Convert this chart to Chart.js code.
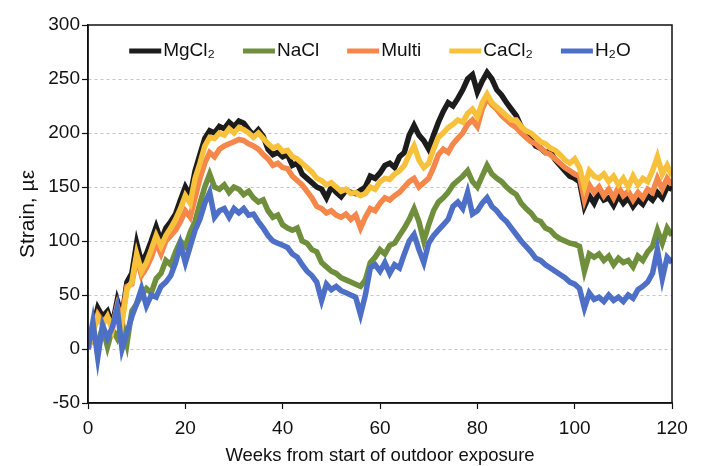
<!DOCTYPE html>
<html>
<head>
<meta charset="utf-8">
<script src="https://cdn.jsdelivr.net/npm/chart.js@4.4.1/dist/chart.umd.min.js"></script>
<style>
  html, body { margin: 0; padding: 0; background: #fff; }
  canvas { display: block; }
</style>
</head>
<body>
<canvas id="strainChart" width="706" height="466"></canvas>
<script>
// ========================================
// データ（週ごとの読み取り値）
// ========================================

const weeks = Array.from({ length: 121 }, (_, i) => i);

const mgcl2 = [
    0, 20, 38, 30, 35, 22, 45, 30, 62, 70,
    98, 80, 88, 100, 113, 100, 112, 118, 125, 138,
    150, 142, 165, 180, 195, 202, 200, 206, 204, 210,
    206, 211, 209, 203, 198, 203, 197, 185, 180, 182,
    178, 180, 170, 172, 162, 158, 154, 150, 148, 140,
    150, 145, 141, 147, 145, 144, 147, 150, 160, 158,
    163, 170, 172, 168, 178, 182, 198, 207, 198, 193,
    185, 198, 210, 220, 228, 225, 232, 240, 250, 254,
    238, 248, 256, 250, 240, 235, 228, 222, 216, 206,
    200, 194, 188, 186, 182, 183, 175, 170, 165, 160,
    158, 155, 132, 142, 135, 145, 138, 140, 133, 142,
    135, 140, 132, 138, 134, 142, 138, 145, 140, 150,
    148
];

const nacl = [
    0, 12, 5, 20, 2, 18, 10, 25, 5, 35,
    42, 50, 56, 52, 65, 70, 82, 78, 90, 100,
    95, 108, 118, 135, 150, 162, 150, 148, 152, 145,
    150, 148, 143, 146, 140, 136, 138, 128, 122, 124,
    115, 112, 110, 112, 100, 98, 92, 90, 80, 76,
    72, 70, 66, 64, 62, 60, 58, 64, 80, 85,
    92, 88, 96, 98, 105, 112, 120, 130, 118, 100,
    115, 128, 136, 140, 145, 152, 156, 160, 165, 155,
    150, 160, 170, 162, 158, 155, 150, 146, 143, 135,
    130, 126, 120, 118, 112, 110, 105, 102, 100, 98,
    97, 95, 72, 88, 85, 88, 82, 86, 78, 84,
    80, 82, 76, 86, 82, 90, 95, 110, 98, 112,
    105
];

const multi = [
    0, 18, 32, 25, 30, 20, 40, 28, 58, 60,
    85, 68, 75, 85, 98, 88, 100, 105, 110, 118,
    128, 122, 140, 158, 172, 182, 178, 185, 188, 190,
    192, 194, 193, 190, 188, 185, 180, 176, 170, 172,
    168, 167, 160, 156, 152, 146, 140, 132, 130, 126,
    128, 124, 122, 125, 120, 124, 112, 122, 130, 128,
    135, 140, 138, 142, 145, 150, 155, 158, 150, 154,
    158, 168, 180, 185, 182, 190, 195, 200, 208, 212,
    206, 222, 232, 226, 222, 216, 212, 208, 205, 200,
    196, 192, 190, 186, 182, 180, 176, 172, 168, 165,
    162, 160, 138, 152, 145, 150, 142, 148, 140, 150,
    142, 146, 138, 145, 140, 148, 145, 158, 148, 158,
    152
];

const cacl2 = [
    0, 15, 30, 22, 30, 18, 38, 25, 55, 62,
    88, 72, 80, 92, 105, 95, 105, 112, 120, 130,
    142, 135, 158, 172, 188, 196, 195, 200, 198, 204,
    200, 205, 203, 200, 196, 200, 195, 190, 186, 188,
    183, 184, 178, 176, 172, 168, 164, 158, 156, 152,
    154, 150, 146, 148, 144, 145, 142, 144, 150, 148,
    155, 158, 157, 162, 165, 170, 180, 188, 175, 168,
    172, 185, 196, 200, 205, 208, 212, 210, 218, 222,
    215, 228, 236, 228, 224, 220, 216, 212, 212, 206,
    202, 200, 196, 192, 190, 186, 184, 180, 175, 172,
    176, 168, 150, 165, 160, 158, 162, 155, 160, 152,
    158, 150, 160, 152, 158, 155, 165, 178, 162, 170,
    160
];

const h2o = [
    0, 25, -8, 22, 10, 20, 38, 0, 15, 30,
    42, 56, 40, 50, 48, 58, 62, 68, 80, 97,
    80, 95, 110, 120, 135, 145, 122, 128, 130, 122,
    130, 126, 130, 124, 125, 118, 112, 105, 100, 98,
    96, 94, 88, 85, 78, 72, 68, 62, 45, 60,
    55, 58, 54, 52, 50, 48, 32, 50, 75, 78,
    72, 80, 70, 78, 75, 88, 100, 106, 92, 80,
    98, 105, 110, 115, 120, 132, 136, 130, 145, 125,
    128, 135, 140, 132, 128, 122, 118, 112, 106, 100,
    95, 90, 84, 82, 78, 75, 72, 69, 66, 62,
    60, 56, 38, 52, 46, 48, 44, 50, 45, 48,
    44, 50, 47, 55, 58, 62, 70, 92, 65, 85,
    80
];

const xTicks = [0, 20, 40, 60, 80, 100, 120];
const yTicks = [-50, 0, 50, 100, 150, 200, 250, 300];

// ========================================
// チャート
// ========================================

const FONT = "'Liberation Sans', Arial, sans-serif";

function toPoints(values) {
    return values.map((v, i) => ({ x: weeks[i], y: v }));
}

function makeSet(label, values, color, order) {
    return {
        label: label,
        data: toPoints(values),
        borderColor: color,
        backgroundColor: color,
        borderWidth: 5.5,
        pointRadius: 0,
        tension: 0,
        order: order
    };
}

// 凡例（プロット内に横一列）と枠線
const framePlugin = {
    id: 'frame',
    afterDraw(chart) {
        const { ctx, chartArea } = chart;
        ctx.save();
        ctx.strokeStyle = '#111';
        ctx.lineWidth = 1.5;
        ctx.strokeRect(chartArea.left, chartArea.top,
            chartArea.right - chartArea.left, chartArea.bottom - chartArea.top);

        // 凡例
        const lineLen = 32;
        const textGap = 2;
        const itemGap = 28;
        const y = chartArea.top + 26;
        ctx.font = '19px ' + FONT;
        ctx.textBaseline = 'middle';
        ctx.textAlign = 'left';
        const items = chart.data.datasets.map(ds => ({
            label: ds.label,
            color: ds.borderColor,
            w: lineLen + textGap + ctx.measureText(ds.label).width
        }));
        const total = items.reduce((s, it) => s + it.w, 0) + itemGap * (items.length - 1);
        let x = (chartArea.left + chartArea.right) / 2 - total / 2;
        items.forEach(it => {
            ctx.fillStyle = it.color;
            ctx.fillRect(x, y - 2.5, lineLen, 5);
            ctx.fillStyle = '#111';
            ctx.fillText(it.label, x + lineLen + textGap, y);
            x += it.w + itemGap;
        });
        ctx.restore();
    }
};

new Chart(document.getElementById('strainChart'), {
    type: 'line',
    data: {
        datasets: [
            makeSet('MgCl\u2082', mgcl2, '#1c1c1c', 5),
            makeSet('NaCl', nacl, '#6f8f3c', 4),
            makeSet('Multi', multi, '#f5874b', 3),
            makeSet('CaCl\u2082', cacl2, '#f8c13c', 2),
            makeSet('H\u2082O', h2o, '#4d70c6', 1)
        ]
    },
    options: {
        responsive: false,
        animation: false,
        layout: { padding: { top: 25, right: 34, left: 0, bottom: 0 } },
        plugins: {
            tooltip: { enabled: false },
            legend: { display: false }
        },
        scales: {
            x: {
                type: 'linear',
                min: 0,
                max: 120,
                afterBuildTicks(scale) {
                    scale.ticks = xTicks.map(v => ({ value: v }));
                },
                afterFit(scale) { scale.height = 63; },
                grid: {
                    drawOnChartArea: false,
                    drawTicks: true,
                    tickLength: 6,
                    tickColor: '#111',
                    tickWidth: 1.2
                },
                border: { color: '#111', width: 1.5 },
                ticks: {
                    color: '#111',
                    padding: 8,
                    maxRotation: 0,
                    font: { family: FONT, size: 19 }
                },
                title: {
                    display: true,
                    text: 'Weeks from start of outdoor exposure',
                    color: '#111',
                    padding: { top: 0, bottom: -1 },
                    font: { family: FONT, size: 18.5 }
                }
            },
            y: {
                min: -50,
                max: 300,
                afterBuildTicks(scale) {
                    scale.ticks = yTicks.map(v => ({ value: v }));
                },
                afterFit(scale) { scale.width = 88; },
                grid: {
                    color: ctx => (ctx.tick && (ctx.tick.value === -50 || ctx.tick.value === 300)) ? 'rgba(0,0,0,0)' : '#c4c4c4',
                    lineWidth: 1,
                    drawTicks: true,
                    tickLength: 6,
                    tickColor: '#111',
                    tickWidth: 1.2,
                    tickBorderDash: []
                },
                border: { color: '#111', width: 1.5, dash: [3, 3] },
                ticks: {
                    color: '#111',
                    padding: 2,
                    font: { family: FONT, size: 19 }
                },
                title: {
                    display: true,
                    text: 'Strain, \u00b5\u03b5',
                    color: '#111',
                    padding: { top: 16, bottom: 0 },
                    font: { family: FONT, size: 21 }
                }
            }
        }
    },
    plugins: [framePlugin]
});
</script>
</body>
</html>
